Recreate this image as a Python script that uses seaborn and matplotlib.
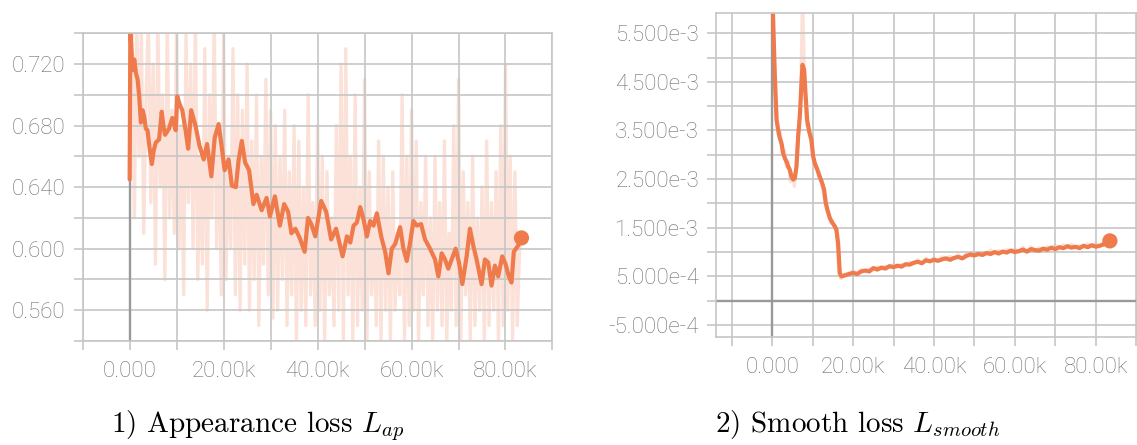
import numpy as np
import pandas as pd
import matplotlib
matplotlib.use("Agg")
import matplotlib.pyplot as plt
import seaborn as sns
from matplotlib.ticker import FuncFormatter

# ---- appearance loss (left panel) ----
# smoothed curve, step in thousands
ap_smooth_k = [0.0, 0.15, 0.63, 0.99, 1.34, 1.69, 2.04, 2.39, 2.75, 3.10, 3.45, 3.80, 4.30, 4.72,
               5.14, 5.56, 6.27, 6.83, 7.18, 7.54, 8.38, 9.08, 9.79, 10.14, 10.63, 11.20, 11.90,
               12.46, 13.10, 14.01, 14.86, 15.77, 16.48, 17.39, 18.10, 18.94, 19.65, 20.21, 21.06,
               21.76, 22.61, 23.17, 23.87, 24.58, 25.42, 26.34, 27.04, 28.10, 29.15, 29.86, 30.92,
               31.97, 32.89, 33.73, 34.44, 35.28, 36.20, 37.25, 37.96, 38.66, 39.51, 40.77, 41.83,
               42.89, 43.94, 44.48, 45.33, 46.25, 46.96, 47.66, 48.37, 49.08, 49.79, 50.50, 51.20,
               51.91, 52.62, 53.54, 54.39, 55.10, 55.80, 56.51, 57.57, 58.28, 58.99, 59.70, 60.40,
               61.11, 62.03, 62.88, 63.94, 65.00, 65.71, 66.42, 67.13, 67.83, 68.54, 69.39, 70.10,
               70.81, 71.73, 72.43, 73.14, 73.85, 74.91, 75.62, 76.33, 77.03, 77.74, 78.45, 79.30,
               80.01, 80.71, 81.28, 81.77, 82.69, 83.40]
ap_smooth = [0.645, 0.742, 0.716, 0.723, 0.714, 0.710, 0.699, 0.682, 0.690, 0.686, 0.678, 0.677,
             0.664, 0.655, 0.664, 0.669, 0.671, 0.689, 0.680, 0.674, 0.678, 0.685, 0.677, 0.699,
             0.694, 0.690, 0.677, 0.665, 0.690, 0.680, 0.667, 0.658, 0.668, 0.647, 0.672, 0.681,
             0.665, 0.651, 0.658, 0.641, 0.640, 0.657, 0.670, 0.656, 0.651, 0.629, 0.635, 0.625,
             0.633, 0.621, 0.634, 0.615, 0.629, 0.624, 0.610, 0.613, 0.607, 0.598, 0.620, 0.616,
             0.608, 0.631, 0.624, 0.606, 0.613, 0.606, 0.595, 0.608, 0.604, 0.615, 0.617, 0.627,
             0.619, 0.608, 0.618, 0.615, 0.623, 0.608, 0.598, 0.584, 0.600, 0.603, 0.614, 0.600,
             0.592, 0.604, 0.618, 0.615, 0.616, 0.606, 0.600, 0.593, 0.582, 0.597, 0.593, 0.587,
             0.593, 0.600, 0.591, 0.577, 0.595, 0.613, 0.602, 0.593, 0.577, 0.593, 0.591, 0.576,
             0.589, 0.582, 0.595, 0.590, 0.582, 0.578, 0.598, 0.602, 0.607]
# raw values, one every 500 steps
ap_raw = [0.645, 0.740, 0.620, 0.750, 0.660, 0.740, 0.610, 0.700, 0.750, 0.630,
          0.720, 0.590, 0.750, 0.640, 0.700, 0.580, 0.750, 0.620, 0.690, 0.610,
          0.750, 0.600, 0.680, 0.570, 0.740, 0.630, 0.720, 0.600, 0.750, 0.580,
          0.660, 0.590, 0.730, 0.560, 0.700, 0.620, 0.750, 0.600, 0.680, 0.570,
          0.740, 0.580, 0.660, 0.600, 0.730, 0.570, 0.700, 0.560, 0.690, 0.590,
          0.720, 0.560, 0.670, 0.580, 0.700, 0.550, 0.660, 0.590, 0.710, 0.570,
          0.690, 0.555, 0.680, 0.560, 0.660, 0.580, 0.690, 0.550, 0.650, 0.570,
          0.680, 0.540, 0.670, 0.560, 0.640, 0.550, 0.700, 0.570, 0.630, 0.550,
          0.680, 0.560, 0.660, 0.540, 0.650, 0.570, 0.620, 0.550, 0.680, 0.560,
          0.720, 0.540, 0.730, 0.570, 0.660, 0.540, 0.700, 0.550, 0.640, 0.560,
          0.710, 0.540, 0.650, 0.570, 0.620, 0.550, 0.670, 0.540, 0.660, 0.560,
          0.640, 0.540, 0.650, 0.560, 0.610, 0.570, 0.700, 0.540, 0.660, 0.550,
          0.690, 0.560, 0.670, 0.540, 0.630, 0.570, 0.660, 0.550, 0.620, 0.540,
          0.660, 0.560, 0.630, 0.550, 0.670, 0.540, 0.610, 0.560, 0.680, 0.550,
          0.710, 0.540, 0.650, 0.570, 0.630, 0.540, 0.660, 0.550, 0.620, 0.560,
          0.640, 0.540, 0.670, 0.550, 0.630, 0.560, 0.650, 0.540, 0.680, 0.550,
          0.720, 0.560, 0.660, 0.540, 0.650, 0.550, 0.600, 0.607]
ap_raw_interval = 500

# ---- smooth loss (right panel), values in 1e-3 ----
sm_smooth_k = [0.0, 0.3, 0.66, 1.07, 1.48, 1.89, 2.30, 2.72, 3.13, 3.54, 3.95, 4.36, 4.77, 5.19,
               5.60, 6.01, 6.42, 6.83, 7.24, 7.49, 7.90, 8.23, 8.64, 9.14, 9.71, 10.12, 10.53,
               11.19, 11.77, 12.35, 12.84, 13.25, 13.66, 14.24, 14.90, 15.47, 15.88, 16.30, 16.71,
               17.12, 18, 19, 20, 21, 22, 23, 24, 25, 26, 27, 28, 29, 30, 31, 32, 33, 34, 35, 36,
               37, 38, 39, 40, 41, 42, 43, 44, 45, 46, 47, 48, 49, 50, 51, 52, 53, 54, 55, 56, 57,
               58, 59, 60, 61, 62, 63, 64, 65, 66, 67, 68, 69, 70, 71, 72, 73, 74, 75, 76, 77, 78,
               79, 80, 81, 82, 83, 83.5]
sm_smooth = [6.5, 5.6, 4.61, 3.72, 3.51, 3.34, 3.24, 3.03, 2.93, 2.86, 2.76, 2.69, 2.55, 2.49,
             2.52, 2.76, 3.38, 3.79, 4.47, 4.85, 4.75, 4.27, 3.72, 3.48, 3.31, 2.97, 2.83,
             2.69, 2.55, 2.42, 2.28, 2.01, 1.87, 1.70, 1.60, 1.53, 1.46, 1.18, 0.57,
             0.50, 0.52, 0.55, 0.57, 0.55, 0.60, 0.62, 0.60, 0.67, 0.64, 0.68, 0.66, 0.71, 0.69,
             0.72, 0.70, 0.75, 0.74, 0.78, 0.80, 0.77, 0.83, 0.81, 0.84, 0.82, 0.85, 0.87, 0.84,
             0.88, 0.90, 0.87, 0.92, 0.95, 0.93, 0.96, 0.94, 0.98, 0.96, 1.00, 0.97, 1.01, 0.99,
             1.03, 1.00, 1.02, 1.05, 1.01, 1.06, 1.04, 1.03, 1.07, 1.05, 1.09, 1.06, 1.10, 1.08,
             1.12, 1.09, 1.11, 1.08, 1.13, 1.10, 1.14, 1.11, 1.13, 1.16, 1.18, 1.23]
sm_raw_k = [i * 0.5 for i in range(35)] + list(range(18, 84))
sm_raw = [7.0, 4.3, 4.1, 3.4, 3.5, 3.0, 3.1, 2.75, 2.85, 2.45, 2.6, 2.35, 2.85, 3.5, 4.0,
          6.2, 4.5, 3.6, 3.6, 3.25, 3.05, 2.75, 2.75, 2.5, 2.5, 2.3, 2.05, 1.85, 1.8, 1.6,
          1.6, 1.5, 1.35, 0.55, 0.45,
          0.55, 0.52, 0.62, 0.53, 0.64, 0.60, 0.65, 0.63, 0.70, 0.65, 0.71, 0.68, 0.74, 0.69,
          0.75, 0.72, 0.79, 0.75, 0.84, 0.76, 0.87, 0.80, 0.88, 0.81, 0.90, 0.85, 0.91, 0.86,
          0.95, 0.86, 0.97, 0.93, 0.99, 0.94, 0.99, 0.96, 1.04, 0.98, 1.03, 0.99, 1.05, 1.01,
          1.07, 1.00, 1.10, 1.00, 1.11, 1.02, 1.09, 1.05, 1.11, 1.07, 1.14, 1.08, 1.15, 1.09,
          1.16, 1.08, 1.13, 1.10, 1.17, 1.11, 1.18, 1.12, 1.20, 1.30]

orange = "#ef7a4b"
grid_c = "#c6c6c6"
label_c = "#6f6f6f"

sns.set_theme(style="white")
plt.rcParams["font.family"] = ["Roboto", "DejaVu Sans"]
plt.rcParams["font.weight"] = "light"
plt.rcParams["mathtext.fontset"] = "cm"

fig = plt.figure(figsize=(11.37, 4.45), dpi=100)
ax1 = fig.add_axes([0.0727, 0.2337, 0.4132, 0.6915])
ax2 = fig.add_axes([0.6297, 0.2427, 0.3703, 0.7274])

ap_raw_df = pd.DataFrame({"step": np.arange(len(ap_raw)) * ap_raw_interval, "loss": ap_raw})
ap_sm_df = pd.DataFrame({"step": np.array(ap_smooth_k) * 1000, "loss": ap_smooth})
sm_raw_df = pd.DataFrame({"step": np.array(sm_raw_k) * 1000, "loss": np.array(sm_raw) * 1e-3})
sm_sm_df = pd.DataFrame({"step": np.array(sm_smooth_k) * 1000, "loss": np.array(sm_smooth) * 1e-3})


def kfmt(v, pos):
    if abs(v) < 1:
        return "0.000"
    if round(v / 10000) % 2:
        return ""
    return "%.2fk" % (v / 1000)


def efmt(v, pos):
    if abs(v) < 1e-9:
        return ""
    k = int(round(v / 0.5e-3))
    if k % 2 == 0:
        return ""
    m, e = ("%.3e" % v).split("e")
    return "%se%d" % (m, int(e))


def afmt(v, pos):
    k = int(round(v / 0.02))
    if k % 2 == 0:
        return "%.3f" % v
    return ""


def style(ax, xlim, ylim, yticks, yfmt):
    ax.set_xlim(*xlim)
    ax.set_ylim(*ylim)
    ax.set_xticks(np.arange(-10000, 90001, 10000))
    ax.set_yticks(yticks)
    ax.xaxis.set_major_formatter(FuncFormatter(kfmt))
    ax.yaxis.set_major_formatter(FuncFormatter(yfmt))
    ax.grid(True, color=grid_c, linewidth=1.2)
    ax.set_axisbelow("line")
    for s in ax.spines.values():
        s.set_color(grid_c)
        s.set_linewidth(1.2)
    ax.tick_params(axis="both", length=6.2, width=1.2, color=grid_c,
                   labelcolor=label_c, labelsize=16)
    ax.tick_params(axis="x", pad=8, bottom=True)
    ax.tick_params(axis="y", pad=6, left=True)
    ax.set_xlabel("")
    ax.set_ylabel("")
    ax.axvline(0, color="#999999", linewidth=1.7, zorder=1.6)


# left panel
sns.lineplot(data=ap_raw_df, x="step", y="loss", ax=ax1, color=orange, alpha=0.22,
             linewidth=2.4, estimator=None, zorder=1)
sns.lineplot(data=ap_sm_df, x="step", y="loss", ax=ax1, color=orange, linewidth=3,
             estimator=None, zorder=2)
sns.scatterplot(x=[ap_sm_df["step"].iloc[-1]], y=[ap_sm_df["loss"].iloc[-1]], ax=ax1,
                color=orange, s=120, edgecolor="none", zorder=3)
style(ax1, (-10000, 90000), (0.54, 0.74), np.arange(0.54, 0.7401, 0.02), afmt)

# right panel
sns.lineplot(data=sm_raw_df, x="step", y="loss", ax=ax2, color=orange, alpha=0.22,
             linewidth=2.4, estimator=None, zorder=1)
sns.lineplot(data=sm_sm_df, x="step", y="loss", ax=ax2, color=orange, linewidth=3,
             estimator=None, zorder=2)
sns.scatterplot(x=[sm_sm_df["step"].iloc[-1]], y=[sm_sm_df["loss"].iloc[-1]], ax=ax2,
                color=orange, s=120, edgecolor="none", zorder=3)
style(ax2, (-13900, 90200), (-0.747e-3, 5.91e-3), np.arange(-0.5e-3, 5.51e-3, 0.5e-3), efmt)
ax2.axhline(0, color="#999999", linewidth=1.7, zorder=1.6)

fig.text(0.227, 0.03, "1) Appearance loss $L_{ap}$", fontfamily="cmr10", fontsize=21,
         ha="center", va="baseline", color="black")
fig.text(0.7546, 0.03, "2) Smooth loss $L_{smooth}$", fontfamily="cmr10", fontsize=21,
         ha="center", va="baseline", color="black")

fig.savefig("out.png", dpi=100)
